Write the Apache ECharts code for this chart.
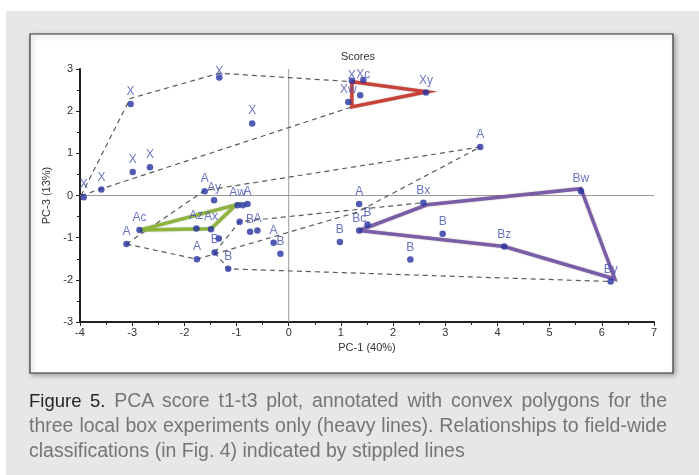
<!DOCTYPE html>
<html>
<head>
<meta charset="utf-8">
<script src="https://cdn.jsdelivr.net/npm/echarts@6/dist/echarts.min.js"></script>
<style>
  html, body { margin: 0; padding: 0; background: #ffffff; }
  #wrap { position: relative; width: 699px; height: 475px; }
  #chart { position: absolute; left: 0; top: 0; width: 699px; height: 475px; }
  #caption {
    position: absolute; left: 29px; top: 388px; width: 638px;
    font-family: "Liberation Sans", Arial, sans-serif; font-size: 19.5px; line-height: 25px;
    color: #757575;
  }
  #caption .row { white-space: nowrap; }
  #caption .full { text-align: justify; text-align-last: justify; white-space: normal; }
  #caption .lead { color: #262626; font-size: 18.5px; }
</style>
</head>
<body>
<div id="wrap">
  <div id="chart"></div>
  <div id="caption"></div>
</div>
<script>
// PCA scores: PC-1 (t1) against PC-3 (t3)
const pc1 = [
  -3.93, -3.59, -3.03, -1.33, -0.70, -2.99, -2.66,
  -1.61, -1.43, -0.98, -0.88, -0.79, -2.86, -1.77, -1.49, -1.34,
  -3.11, -1.76, -1.42, -1.16, -0.94, -0.74, -0.60, -0.29, -0.16,
  1.14, 1.37, 1.21, 1.43, 2.63, 3.67,
  1.35, 2.58, 1.51, 1.35, 0.98, 2.95, 2.33, 4.13, 5.60, 6.17
];
const pc3 = [
  -0.04, 0.14, 2.17, 2.80, 1.71, 0.56, 0.67,
  0.10, -0.11, -0.23, -0.23, -0.20, -0.82, -0.78, -0.80, -1.02,
  -1.15, -1.51, -1.35, -1.74, -0.62, -0.86, -0.83, -1.12, -1.38,
  2.22, 2.38, 2.72, 2.74, 2.44, 1.15,
  -0.20, -0.17, -0.69, -0.83, -1.10, -0.91, -1.52, -1.21, 0.10, -2.04
];
const sampleTags = [
  'X', 'X', 'X', 'X', 'X', 'X', 'X',
  'A', 'Ay', 'Aw', '', 'A', 'Ac', 'Az', 'Ax', '',
  'A', 'A', 'B', 'B', '', 'B', 'A', 'A', 'B',
  'Xw', '', 'X', 'Xc', 'Xy', 'A',
  'A', 'Bx', 'B', 'Bc', 'B', 'B', 'B', 'Bz', 'Bw', 'By'
];

// Convex hulls of the three local box experiments
const hullA = [[-2.86, -0.82], [-1.01, -0.22], [-1.49, -0.79]];
const hullX = [[1.21, 2.70], [2.65, 2.46], [1.21, 2.10]];
const hullB = [[1.35, -0.83], [2.65, -0.22], [5.60, 0.16], [6.25, -1.98], [4.13, -1.21]];

// Stippled links to the field-wide classes
const linkX1 = [[-3.98, 0.00], [-3.04, 2.30], [-1.33, 2.90], [1.21, 2.70]];
const linkX2 = [[-3.98, 0.00], [1.21, 2.10]];
const linkA1 = [[-3.11, -1.15], [-1.61, 0.12], [3.67, 1.15]];
const linkA2 = [[-3.11, -1.15], [-1.76, -1.51], [1.30, -0.40], [3.67, 1.15]];
const linkB1 = [[-1.42, -1.35], [-0.94, -0.62], [2.58, -0.17]];
const linkB2 = [[-1.42, -1.35], [-1.16, -1.74], [6.17, -2.04]];

// Zero reference lines
const zeroV = [[0, -3], [0, 3]];
const zeroH = [[-4, 0], [7, 0]];

const xTicks = { min: -4, max: 7, step: 1 };
const yTicks = { min: -3, max: 3, step: 1 };

const captionLead = 'Figure 5.';
const captionLines = [
  'PCA score t1-t3 plot, annotated with convex polygons for the',
  'three local box experiments only (heavy lines). Relationships to field-wide',
  'classifications (in Fig. 4) indicated by stippled lines'
];

// labels that sit right on top of their dot
const snug = new Set([3, 27, 28]);

const FONT = '"Liberation Sans", Arial, sans-serif';

// caption: first two lines justified to the full measure, last line ragged
(function buildCaption() {
  const cap = document.getElementById('caption');
  captionLines.forEach((line, i) => {
    const row = document.createElement('div');
    row.className = i < captionLines.length - 1 ? 'row full' : 'row';
    if (i === 0) {
      const lead = document.createElement('span');
      lead.className = 'lead';
      lead.textContent = captionLead;
      row.appendChild(lead);
      row.appendChild(document.createTextNode(' ' + line));
    } else {
      row.textContent = line;
    }
    cap.appendChild(row);
  });
})();

const points = pc1.map((x, i) => {
  const item = { value: [x, pc3[i]], name: sampleTags[i] };
  if (snug.has(i)) item.label = { distance: -4 };
  return item;
});

function closed(pts) { return pts.concat([pts[0]]); }

function dashed(data) {
  return {
    type: 'line', data, symbol: 'none', silent: true, z: 3,
    lineStyle: { color: '#5a5a5a', width: 1.2, type: [5, 4] }
  };
}
function hull(data, color) {
  return {
    type: 'line', data: closed(data), symbol: 'none', silent: true, z: 4,
    lineStyle: { color, width: 3.5, join: 'miter', shadowBlur: 2, shadowColor: 'rgba(0,0,0,0.25)' }
  };
}

const chart = echarts.init(document.getElementById('chart'), null, { renderer: 'canvas' });

const option = {
  backgroundColor: '#ffffff',
  animation: false,
  title: {
    text: 'Scores', left: 353, top: 46, textAlign: 'center',
    textStyle: { fontFamily: FONT, fontSize: 11, fontWeight: 'normal', color: '#333' }
  },
  graphic: { elements: [
    { type: 'rect', z: -10, shape: { x: 6, y: 11, width: 693, height: 464 }, style: { fill: '#e6e7e9' } },
    { type: 'rect', z: -9, shape: { x: 30, y: 34, width: 643, height: 339 },
      style: { fill: '#ffffff', stroke: '#333', lineWidth: 1.2, shadowBlur: 5, shadowOffsetX: 2, shadowOffsetY: 2, shadowColor: 'rgba(0,0,0,0.3)' } }
  ] },
  grid: { left: 80, right: 45, top: 69, bottom: 153, containLabel: false },
  xAxis: {
    type: 'value', min: xTicks.min, max: xTicks.max, interval: xTicks.step,
    name: 'PC-1 (40%)', nameLocation: 'middle', nameGap: 20,
    nameTextStyle: { fontFamily: FONT, fontSize: 11, color: '#333' },
    axisLine: { show: true, onZero: false, lineStyle: { color: '#222', width: 2 } },
    axisTick: { show: true, length: 4, lineStyle: { color: '#222', width: 1 } },
    minorTick: { show: true, splitNumber: 2, length: 3, lineStyle: { color: '#222' } },
    axisLabel: { fontFamily: FONT, fontSize: 11, color: '#333', margin: 5 },
    splitLine: { show: false }
  },
  yAxis: {
    type: 'value', min: yTicks.min, max: yTicks.max, interval: yTicks.step,
    name: 'PC-3 (13%)', nameLocation: 'middle', nameGap: 25, nameRotate: 90,
    nameTextStyle: { fontFamily: FONT, fontSize: 11, color: '#333' },
    axisLine: { show: true, onZero: false, lineStyle: { color: '#222', width: 2 } },
    axisTick: { show: true, length: 4, lineStyle: { color: '#222', width: 1 } },
    minorTick: { show: true, splitNumber: 2, length: 3, lineStyle: { color: '#222' } },
    axisLabel: { fontFamily: FONT, fontSize: 11, color: '#333', margin: 7 },
    splitLine: { show: false }
  },
  series: [
    { type: 'line', data: zeroV, symbol: 'none', silent: true, z: 1, lineStyle: { color: '#9a9a9a', width: 1 } },
    { type: 'line', data: zeroH, symbol: 'none', silent: true, z: 1, lineStyle: { color: '#9a9a9a', width: 1 } },
    dashed(linkX1), dashed(linkX2), dashed(linkA1), dashed(linkA2), dashed(linkB1), dashed(linkB2),
    hull(hullA, '#8db43c'),
    hull(hullX, '#c8423a'),
    hull(hullB, '#7b5ca6'),
    {
      type: 'scatter', data: points, symbolSize: 6.5, z: 5,
      itemStyle: { color: '#2632a0' },
      label: {
        show: true, position: 'top', distance: 3,
        formatter: p => p.name,
        fontFamily: FONT, fontSize: 12, color: '#4351b0'
      },
      labelLayout: { hideOverlap: false }
    }
  ]
};

chart.setOption(option);
</script>
</body>
</html>
